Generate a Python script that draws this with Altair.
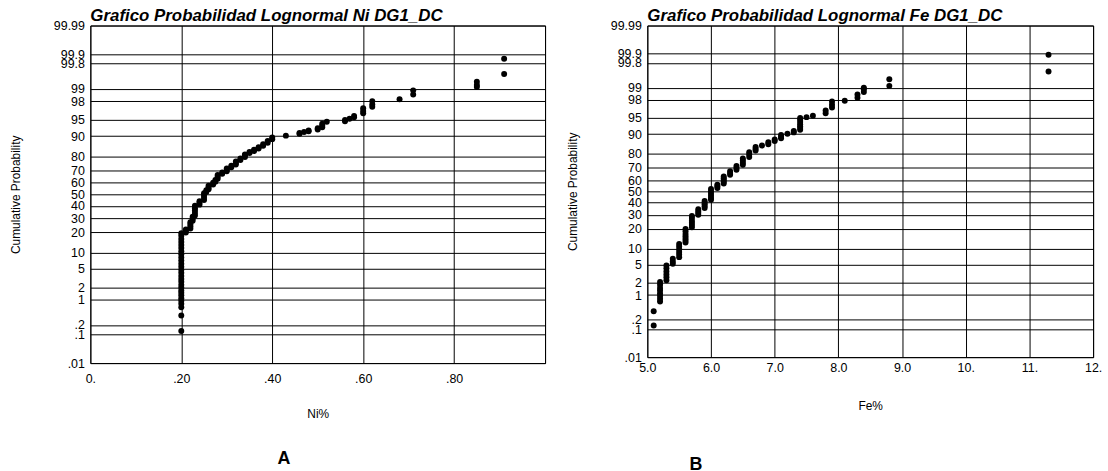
import altair as alt
import pandas as pd
from statistics import NormalDist

# ---------------- data ----------------
# Panel A: Ni %  (distinct values and the cumulative probabilities (%) plotted at each)
ni_percent = [0.20, 0.21, 0.22, 0.225, 0.23, 0.24, 0.25, 0.255, 0.26, 0.27, 0.275,
              0.28, 0.29, 0.30, 0.31, 0.32, 0.33, 0.34, 0.35, 0.36, 0.37, 0.38,
              0.39, 0.40, 0.43, 0.46, 0.47, 0.48, 0.50, 0.51, 0.52, 0.56, 0.57,
              0.58, 0.60, 0.62, 0.68, 0.71, 0.85, 0.91]
ni_cum_prob = [
    [0.13, 0.38, 0.64, 0.8, 0.95, 1.1, 1.3, 1.5, 1.7, 2.0, 2.3, 2.7, 3.1, 3.6,
     4.2, 4.8, 5.5, 6.3, 7.2, 8.2, 9.3, 10.5, 11.8, 13.2, 14.7, 16.3, 18.0, 19.5],
    [20.0, 21.0, 22.0],
    [22.5, 24.0, 25.5, 27.0],
    [28.0, 29.5, 31.0],
    [32.0, 34.0, 36.0, 38.0, 40.0],
    [41.0, 42.5, 44.0],
    [45.0, 47.0, 49.0, 51.0],
    [52.0, 53.5],
    [54.5, 56.0, 57.5],
    [58.5, 60.0],
    [61.0, 62.5],
    [63.5, 65.0, 66.5],
    [67.5, 68.5],
    [69.5, 70.5, 71.5],
    [72.5, 73.5],
    [74.5, 75.5, 76.5],
    [77.5, 78.5],
    [79.5, 80.5, 81.0],
    [81.8, 82.5],
    [83.0, 83.7],
    [84.3, 85.0],
    [85.8, 86.5],
    [87.2, 88.0],
    [88.8, 89.5],
    [90.2],
    [90.9, 91.2],
    [91.5],
    [91.8, 92.0],
    [92.3, 92.7],
    [93.0, 93.5, 94.0],
    [94.5],
    [94.6, 94.9],
    [95.2],
    [95.5, 95.8],
    [96.3, 96.7, 97.1],
    [97.3, 97.6, 98.0],
    [98.2],
    [98.6, 98.9],
    [99.1, 99.2, 99.34],
    [99.6, 99.86],
]

# Panel B: Fe %
fe_percent = [5.1, 5.2, 5.3, 5.4, 5.5, 5.6, 5.7, 5.8, 5.9, 6.0, 6.1, 6.2, 6.3, 6.4,
              6.5, 6.6, 6.7, 6.8, 6.9, 7.0, 7.1, 7.2, 7.3, 7.4, 7.5, 7.6, 7.8,
              7.9, 8.1, 8.3, 8.4, 8.8, 11.3]
fe_cum_prob = [
    [0.13, 0.36],
    [0.67, 0.8, 0.95, 1.1, 1.3, 1.5, 1.8, 2.1],
    [2.3, 2.7, 3.1, 3.6, 4.2, 4.8],
    [5.2, 5.8, 6.5],
    [7.0, 7.8, 8.7, 9.7, 10.8, 11.9],
    [12.5, 13.5, 14.5, 15.7, 17.0, 18.5, 20.0],
    [21.0, 22.5, 24.0, 25.5, 27.5, 29.0],
    [30.0, 31.5, 33.0, 34.5],
    [35.5, 37.0, 38.5, 40.0, 41.5],
    [42.5, 44.0, 46.0, 48.0, 50.0, 52.0],
    [53.0, 54.5, 56.0],
    [57.0, 58.5, 60.0, 61.5, 63.0],
    [64.5, 66.0, 67.5],
    [68.5, 70.0, 71.5],
    [72.5, 74.0, 75.5, 77.0],
    [78.0, 79.5, 81.0],
    [82.0, 83.0, 84.0],
    [84.8],
    [85.5, 86.5],
    [87.0, 87.8],
    [88.3, 89.0, 89.7],
    [90.2],
    [90.7, 91.2],
    [91.6, 92.2, 92.8, 93.4, 94.0, 94.6, 95.0],
    [95.2],
    [95.5],
    [96.0, 96.5],
    [97.0, 97.4, 97.8],
    [97.9],
    [98.2, 98.5],
    [98.7, 98.9, 99.0],
    [99.1, 99.4],
    [99.64, 99.89],
]

prob_ticks = [0.01, 0.1, 0.2, 1, 2, 5, 10, 20, 30, 40, 50, 60, 70, 80, 90, 95, 98,
              99, 99.8, 99.9, 99.99]
prob_labels = [".01", ".1", ".2", "1", "2", "5", "10", "20", "30", "40", "50", "60",
               "70", "80", "90", "95", "98", "99", "99.8", "99.9", "99.99"]

ni_ticks = [0.0, 0.2, 0.4, 0.6, 0.8, 1.0]
ni_tick_labels = ["0.", ".20", ".40", ".60", ".80", ""]
fe_ticks = [5, 6, 7, 8, 9, 10, 11, 12]
fe_tick_labels = ["5.0", "6.0", "7.0", "8.0", "9.0", "10.", "11.", "12."]

# ---------------- helpers ----------------
nd = NormalDist()
z_ticks = [nd.inv_cdf(p / 100.0) for p in prob_ticks]
z_max = nd.inv_cdf(0.9999)

FONT = "Liberation Sans"


def label_expr(vals, labels):
    parts = [f"abs(datum.value - ({v:.6f})) < 0.0001 ? '{l}'" for v, l in zip(vals, labels)]
    return " : ".join(parts) + " : ''"


def flatten(levels, probs):
    rows = []
    for v, ps in zip(levels, probs):
        for p in ps:
            rows.append({"v": v, "p": p})
    return pd.DataFrame(rows)


def panel(levels, probs, title, xtitle, xdomain, xticks, xlabels, w, h,
          lab_pad, title_y, letter, letter_dx, letter_offset):
    df = flatten(levels, probs)
    pts = alt.Chart(df).transform_calculate(
        z="quantileNormal(datum.p / 100)"
    ).mark_circle(size=36, color="black", opacity=1).encode(
        x=alt.X("v:Q",
                scale=alt.Scale(domain=xdomain, nice=False, zero=False),
                axis=alt.Axis(values=xticks, labelExpr=label_expr(xticks, xlabels),
                              title=xtitle, labelPadding=lab_pad, titleY=title_y,
                              grid=True)),
        y=alt.Y("z:Q",
                scale=alt.Scale(domain=[-z_max, z_max], nice=False, zero=False),
                axis=alt.Axis(values=z_ticks, labelExpr=label_expr(z_ticks, prob_labels),
                              title="Cumulative Probability", labelPadding=6,
                              titleX=-68, grid=True)),
    ).properties(
        width=w, height=h,
        title=alt.TitleParams(title, anchor="start", frame="group", font=FONT,
                              fontSize=17, fontWeight="bold", fontStyle="italic",
                              color="black", offset=-5),
    )
    return alt.vconcat(
        pts,
        title=alt.TitleParams(letter, orient="bottom", anchor="start", frame="bounds",
                              font=FONT, fontSize=18, fontWeight="bold", color="black",
                              dx=letter_dx, offset=letter_offset),
    )


chart_a = panel(ni_percent, ni_cum_prob, "Grafico Probabilidad Lognormal Ni DG1_DC",
                "Ni%", [0.0, 1.0], ni_ticks, ni_tick_labels, 458, 340,
                10, 46, "A", 270, 30)
chart_b = panel(fe_percent, fe_cum_prob, "Grafico Probabilidad Lognormal Fe DG1_DC",
                "Fe%", [5.0, 12.0], fe_ticks, fe_tick_labels, 449, 334,
                4, 44, "B", 124, 44)

chart = alt.hconcat(chart_a, chart_b, spacing=20).properties(
    padding={"left": 9, "top": 4, "right": 5, "bottom": 0},
    background="white",
).configure_view(
    stroke="black", strokeWidth=1
).configure_axis(
    labelFont=FONT, labelFontSize=12.5, labelColor="black",
    titleFont=FONT, titleFontSize=12, titleFontWeight="normal", titleColor="black",
    gridColor="black", gridOpacity=1, gridWidth=1,
    domain=False, ticks=False, tickSize=0,
    labelFlush=False, labelOverlap=False, labelBound=False,
)

chart.save("out.html", embed_options={"renderer": "svg", "actions": False})
